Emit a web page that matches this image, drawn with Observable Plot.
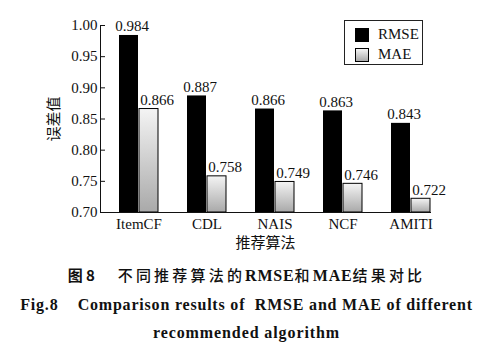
<!DOCTYPE html>
<html>
<head>
<meta charset="utf-8">
<script src="https://cdn.jsdelivr.net/npm/d3@7"></script>
<script src="https://cdn.jsdelivr.net/npm/@observablehq/plot@0.6"></script>
<style>
  html, body { margin: 0; padding: 0; background: #fff; }
  #wrap { position: relative; width: 493px; height: 345px; overflow: hidden; }
  #chart { position: absolute; left: 0; top: 0; }
  .legend { position: absolute; left: 344px; top: 20px; width: 77px; height: 43px; border: 1.3px solid #222; font-family: "Liberation Serif", serif; font-size: 15px; color: #111; }
  .legend .row { position: absolute; left: 10px; height: 15px; display: flex; align-items: center; }
  .legend .sw { width: 14px; height: 14px; box-sizing: border-box; margin-right: 9px; }
  .cap { position: absolute; left: 0; width: 493px; text-align: center; color: #111; white-space: pre; }
  .cap1 { top: 264px; font-family: "Noto Sans CJK SC", sans-serif; font-size: 15px; letter-spacing: 3.2px; font-weight: 500; }
  .cap1 b.s { font-family: "Liberation Serif", serif; font-weight: bold; font-size: 16px; letter-spacing: 0.8px; }
  .cap2 { top: 296px; font-family: "Liberation Serif", serif; font-weight: bold; font-size: 16px; letter-spacing: 0.8px; }
  .cap3 { top: 324px; font-family: "Liberation Serif", serif; font-weight: bold; font-size: 16px; letter-spacing: 0.9px; }
</style>
</head>
<body>
<div id="wrap">
  <div id="chart"></div>
  <div class="legend">
    <div class="row" style="top:6px"><div class="sw" style="background:#000"></div><span>RMSE</span></div>
    <div class="row" style="top:26px"><div class="sw" style="border:1px solid #000;background:linear-gradient(#f4f4f4,#a9a9a9)"></div><span>MAE</span></div>
  </div>
  <div class="cap cap1"><b>图8</b>   不同推荐算法的<b class="s">RMSE</b>和<b class="s">MAE</b>结果对比</div>
  <div class="cap cap2">Fig.8    Comparison results of  RMSE and MAE of different</div>
  <div class="cap cap3">recommended algorithm</div>
</div>
<script>
const algorithms = ["ItemCF", "CDL", "NAIS", "NCF", "AMITI"];
const rmse = [0.984, 0.887, 0.866, 0.863, 0.843];
const mae = [0.866, 0.758, 0.749, 0.746, 0.722];
const yTicks = [0.70, 0.75, 0.80, 0.85, 0.90, 0.95, 1.00];
const yMin = 0.70;
const yMax = 1.00;
const xLabel = "推荐算法";
const yLabel = "误差值";

const rmseData = algorithms.map((a, i) => ({algorithm: a, metric: "RMSE", value: rmse[i]}));
const maeData = algorithms.map((a, i) => ({algorithm: a, metric: "MAE", value: mae[i]}));

const svg = Plot.plot({
  width: 493,
  height: 252,
  marginLeft: 100,
  marginRight: 63,
  marginTop: 25,
  marginBottom: 40,
  style: {fontFamily: "'Liberation Serif', 'Noto Sans CJK SC', serif", fontSize: "15px", color: "#111", background: "transparent", overflow: "visible"},
  x: {domain: algorithms, paddingInner: 0.42, paddingOuter: 0.109, align: 1},
  y: {domain: [yMin, yMax]},
  marks: [
    Plot.barY(rmseData, {x: "algorithm", y1: yMin, y2: "value", fill: "#000", insetRight: 20}),
    Plot.barY(maeData, {x: "algorithm", y1: yMin, y2: "value", fill: "url(#maeGrad)", stroke: "#000", strokeWidth: 1, insetLeft: 20}),
    Plot.text(rmseData, {x: "algorithm", y: "value", text: d => d.value.toFixed(3), dx: -7, dy: -4, lineAnchor: "bottom", fill: "#111"}),
    Plot.text(maeData, {x: "algorithm", y: "value", text: d => d.value.toFixed(3), dx: 18, dy: -4, lineAnchor: "bottom", fill: "#111"}),
    Plot.axisY({ticks: yTicks, tickSize: -5, tickFormat: () => "", label: null}),
    Plot.axisY({ticks: yTicks, tickSize: 0, tickPadding: 3, tickFormat: d => d.toFixed(2), label: yLabel, labelArrow: "none", labelAnchor: "center", labelOffset: 52, fontSize: 15}),
    Plot.axisX({tickSize: 0, tickPadding: 6, label: xLabel, labelArrow: "none", labelAnchor: "center", labelOffset: 35, fontSize: 15}),
    Plot.frame({anchor: "left", stroke: "#111"}),
    Plot.frame({anchor: "bottom", stroke: "#111"})
  ]
});
svg.insertAdjacentHTML("afterbegin", '<defs><linearGradient id="maeGrad" x1="0" y1="0" x2="0" y2="1"><stop offset="0" stop-color="#f4f4f4"/><stop offset="1" stop-color="#a9a9a9"/></linearGradient></defs>');
document.getElementById("chart").appendChild(svg);
</script>
</body>
</html>
